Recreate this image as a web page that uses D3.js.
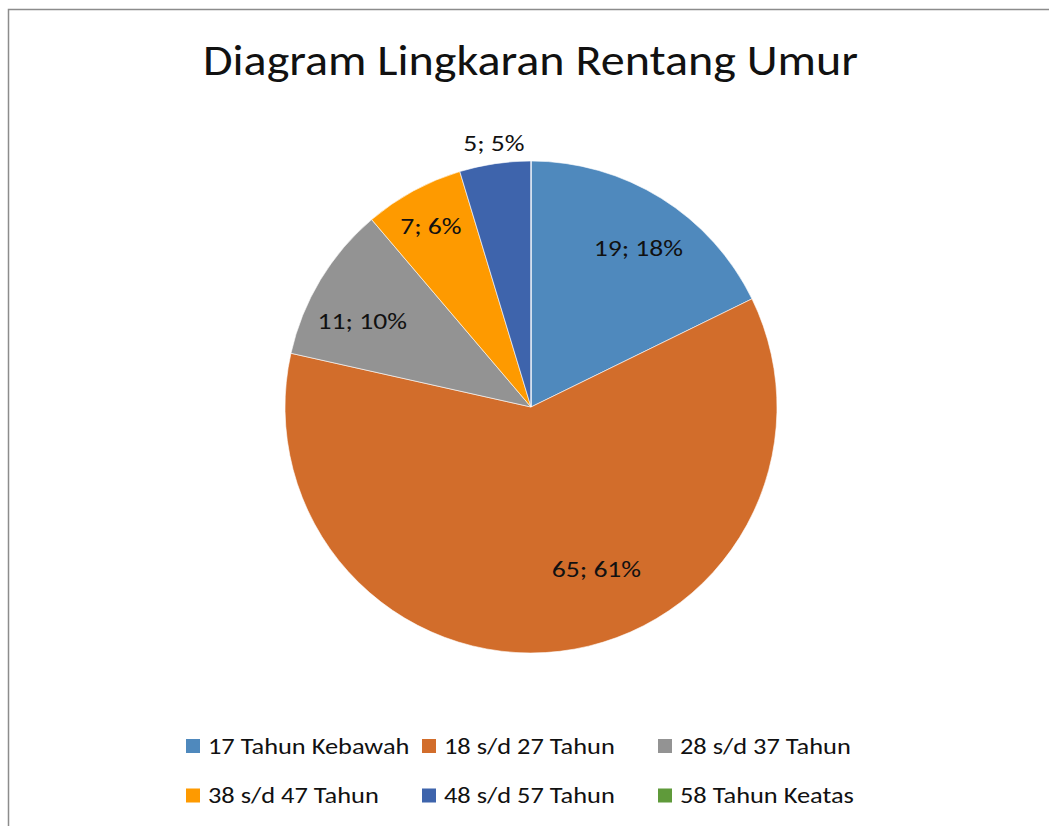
<!DOCTYPE html>
<html>
<head>
<meta charset="utf-8">
<script src="https://cdn.jsdelivr.net/npm/d3@7"></script>
<style>
  body { margin: 0; background: #fff; }
  text { font-family: Carlito, Lato, "Open Sans", sans-serif; fill: #111; }
</style>
</head>
<body>
<figure id="pie" style="margin:0"></figure>
<script>
const categories = ["17 Tahun Kebawah", "18 s/d 27 Tahun", "28 s/d 37 Tahun",
                    "38 s/d 47 Tahun", "48 s/d 57 Tahun", "58 Tahun Keatas"];
const values = [19, 65, 11, 7, 5, 0];
const percentLabels = ["18%", "61%", "10%", "6%", "5%", "0%"];
const colors = ["#4F89BD", "#D26D2B", "#939393", "#FE9A00", "#3E64AC", "#5F9A3A"];

const title = "Diagram Lingkaran Rentang Umur";

const width = 1049, height = 826;
const cx = 531, cy = 407, radius = 246;

// label placement (Excel "best fit" look): angle in degrees from 12 o'clock, radius fraction
const labelAngle = [34, 158, 297, 331, 352];
const labelRadius = [0.78, 0.71, 0.77, 0.84, 1.085];

// Calibri is wider than Lato for the same cap height: stretch text a bit
const textStretch = 1.2;

const svg = d3.select("figure#pie")
  .append("svg")
  .attr("width", width)
  .attr("height", height);

// chart frame (runs past right/bottom edge)
svg.append("rect")
  .attr("x", 8.5).attr("y", 9.5)
  .attr("width", width + 20).attr("height", height + 20)
  .attr("fill", "#fff")
  .attr("stroke", "#8c8c8c")
  .attr("stroke-width", 1.5);

svg.append("text")
  .attr("x", 530.5).attr("y", 75)
  .attr("text-anchor", "middle")
  .style("font-size", "43px")
  .attr("textLength", 655)
  .attr("lengthAdjust", "spacingAndGlyphs")
  .text(title);

const data = categories.map((c, i) => ({ cat: c, value: values[i], pct: percentLabels[i], color: colors[i] }));

const pie = d3.pie().value(d => d.value).sort(null);
const arc = d3.arc().innerRadius(0).outerRadius(radius);
const arcs = pie(data);

const g = svg.append("g").attr("transform", "translate(" + cx + "," + cy + ")");

g.selectAll("path")
  .data(arcs)
  .enter()
  .append("path")
  .attr("d", arc)
  .attr("fill", d => d.data.color)
  .attr("stroke", "#fff")
  .attr("stroke-width", 0.6);

// data labels
g.selectAll("g.lbl")
  .data(arcs.filter(d => d.data.value > 0))
  .enter()
  .append("g")
  .attr("class", "lbl")
  .attr("transform", (d, i) => {
    const a = labelAngle[i] * Math.PI / 180, r = radius * labelRadius[i];
    return "translate(" + (Math.sin(a) * r) + "," + (-Math.cos(a) * r) + ") scale(" + textStretch + ",1)";
  })
  .append("text")
  .attr("dy", "0.35em")
  .attr("text-anchor", "middle")
  .style("font-size", "23px")
  .text(d => d.data.value + "; " + d.data.pct);

// legend, 3 per row
const legendX = d3.scalePoint().domain([0, 1, 2]).range([186, 658]);
const legendY = d3.scalePoint().domain([0, 1]).range([746, 795.5]);

const leg = svg.selectAll("g.leg")
  .data(data)
  .enter()
  .append("g")
  .attr("class", "leg")
  .attr("transform", (d, i) => "translate(" + legendX(i % 3) + "," + legendY(Math.floor(i / 3)) + ")");

leg.append("rect")
  .attr("x", 0).attr("y", -7)
  .attr("width", 14).attr("height", 14)
  .attr("fill", d => d.color);

leg.append("g")
  .attr("transform", "translate(22,0) scale(" + textStretch + ",1)")
  .append("text")
  .attr("dy", "0.35em")
  .style("font-size", "22px")
  .text(d => d.cat);
</script>
</body>
</html>
